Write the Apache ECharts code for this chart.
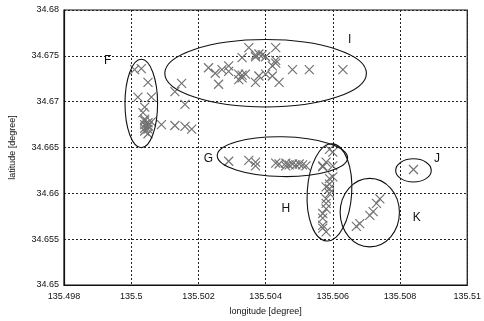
<!DOCTYPE html>
<html><head><meta charset="utf-8">
<script src="https://cdn.jsdelivr.net/npm/echarts@6/dist/echarts.min.js"></script>
<style>html,body{margin:0;padding:0;background:#fff}#c{width:484px;height:321px}</style>
</head><body><div id="c"></div>
<script>
// Observation points [longitude, latitude]
const lonF = [135.5001,135.5003,135.5005,135.5002,135.5006,135.5004,135.50035,135.5004,135.5004,135.5005,135.5004,135.5005,135.5005,135.5004,135.5005,135.5004,135.5005,135.5006,135.5009,135.5013,135.5016,135.5018,135.5015,135.5013,135.5016];
const latF = [34.6735,34.6736,34.6721,34.6705,34.6705,34.6694,34.6688,34.6681,34.6679,34.6677,34.6675,34.6673,34.6674,34.6671,34.6670,34.6668,34.6665,34.6678,34.6675,34.6674,34.6673,34.6670,34.6720,34.6711,34.6697];
const lonI = [135.5035,135.5033,135.5037,135.5038,135.5039,135.5040,135.5037,135.5043,135.5043,135.5042,135.5043,135.5048,135.5053,135.5063,135.5023,135.5025,135.5026,135.5029,135.5029,135.5032,135.5033,135.5033,135.5034,135.5037,135.5038,135.5040,135.5042,135.5044,135.5032,135.5027];
const latI = [34.6759,34.6748,34.6751,34.6752,34.6751,34.6749,34.6749,34.6759,34.6742,34.6739,34.6745,34.6735,34.6735,34.6735,34.6737,34.6731,34.6719,34.6739,34.6733,34.6730,34.6726,34.6729,34.6730,34.6721,34.6728,34.6730,34.6728,34.6721,34.6724,34.6735];
const lonG = [135.5029,135.5035,135.5037,135.5037,135.5043,135.5044,135.5046,135.5047,135.5048,135.5049,135.5050,135.5051,135.5052,135.5046,135.5057,135.5058];
const latG = [34.6635,34.6636,34.6634,34.6630,34.6633,34.6632,34.6633,34.6631,34.6632,34.6631,34.6632,34.6631,34.6630,34.6630,34.6630,34.6634];
const lonH = [135.5060,135.5059,135.5057,135.5060,135.5059,135.5059,135.5059,135.5059,135.5058,135.5058,135.5058,135.5057,135.5057,135.5057,135.5058,135.5057,135.5060,135.5058];
const latH = [34.6645,34.6648,34.6629,34.6630,34.6616,34.6610,34.6605,34.6600,34.6594,34.6589,34.6583,34.6578,34.6573,34.6565,34.6558,34.6562,34.6618,34.6607];
const lonK = [135.5067,135.5068,135.5071,135.5072,135.5073,135.5074];
const latK = [34.6564,34.6567,34.6576,34.6580,34.6589,34.6594];
const lonJ = [135.5084];
const latJ = [34.6626];

// Cluster ellipses: centre lon, centre lat, half-width (deg), half-height (deg), tilt (deg)
const ellNames = ['F','I','G','H','K','J'];
const ellLon = [135.5003,135.5040,135.5045,135.5059,135.5071,135.5084];
const ellLat = [34.6698,34.6731,34.6640,34.6601,34.6579,34.6625];
const ellRx  = [0.000485,0.0030,0.00194,0.000662,0.000882,0.000529];
const ellRy  = [0.00482,0.00368,0.00217,0.00531,0.003736,0.001267];
const ellRot = [0,0,-1,-3.5,0,0];

// Cluster labels
const labText = ['F','I','G','H','J','K'];
const labLon = [135.4993,135.5065,135.5023,135.5046,135.5091,135.5085];
const labLat = [34.6745,34.6768,34.6638,34.6583,34.6638,34.6573];

const xTicks = ['135.498','135.5','135.502','135.504','135.506','135.508','135.51'];
const yTicks = ['34.65','34.655','34.66','34.665','34.67','34.675','34.68'];

const lonAll = [].concat(lonF,lonI,lonG,lonH,lonK,lonJ);
const latAll = [].concat(latF,latI,latG,latH,latK,latJ);
const pts = lonAll.map((v,i)=>[v,latAll[i]]);

const font = 'Liberation Sans, Arial, sans-serif';
const chart = echarts.init(document.getElementById('c'), null, {renderer:'canvas'});
chart.setOption({
  animation:false,
  grid:{left:61,right:16,top:10,bottom:34,show:true,borderColor:'#111',borderWidth:1.2},
  xAxis:{type:'value',min:135.498,max:135.51,interval:0.002,
    name:'longitude [degree]',nameLocation:'middle',nameGap:22,
    nameTextStyle:{fontFamily:font,fontSize:9,color:'#111'},
    axisLine:{lineStyle:{color:'#111',width:1.2}},
    axisTick:{show:false},
    axisLabel:{fontFamily:font,fontSize:9,color:'#111',margin:7,
      formatter:v=>{const i=Math.round((v-135.498)/0.002);return xTicks[i]||'';}},
    splitLine:{show:true,lineStyle:{color:'#222',type:[2,2],width:1}}},
  yAxis:{type:'value',min:34.65,max:34.68,interval:0.005,
    name:'latitude [degree]',nameLocation:'middle',nameGap:47,
    nameTextStyle:{fontFamily:font,fontSize:9,color:'#111'},
    axisLine:{show:true,lineStyle:{color:'#111',width:1.2}},
    axisTick:{show:false},
    axisLabel:{fontFamily:font,fontSize:9,color:'#111',margin:5,
      formatter:v=>{const i=Math.round((v-34.65)/0.005);return yTicks[i]||'';}},
    splitLine:{show:true,lineStyle:{color:'#222',type:[2,2],width:1}}},
  series:[
    {type:'scatter',data:pts,symbol:'path://M0,0L10,10M10,0L0,10',symbolSize:9,
      itemStyle:{color:'rgba(0,0,0,0)',borderColor:'#737373',borderWidth:1.2,opacity:1},z:3},
    {type:'custom',coordinateSystem:'cartesian2d',z:4,
      data:ellLon.map((v,i)=>[v,ellLat[i],ellRx[i],ellRy[i],ellRot[i]]),
      renderItem:(params,api)=>{
        const c=api.coord([api.value(0),api.value(1)]);
        const s=api.size([api.value(2),api.value(3)]);
        return {type:'ellipse',shape:{cx:c[0],cy:c[1],rx:s[0],ry:s[1]},
          rotation:api.value(4)*Math.PI/180,originX:c[0],originY:c[1],
          style:{fill:'none',stroke:'#111',lineWidth:1.1}};
      }},
    {type:'custom',coordinateSystem:'cartesian2d',z:5,
      data:labLon.map((v,i)=>[v,labLat[i],i]),
      renderItem:(params,api)=>{
        const c=api.coord([api.value(0),api.value(1)]);
        return {type:'text',style:{x:c[0],y:c[1],text:labText[api.value(2)],
          fill:'#111',fontFamily:font,fontSize:12,align:'center',verticalAlign:'middle'}};
      }}
  ]
});
</script></body></html>
